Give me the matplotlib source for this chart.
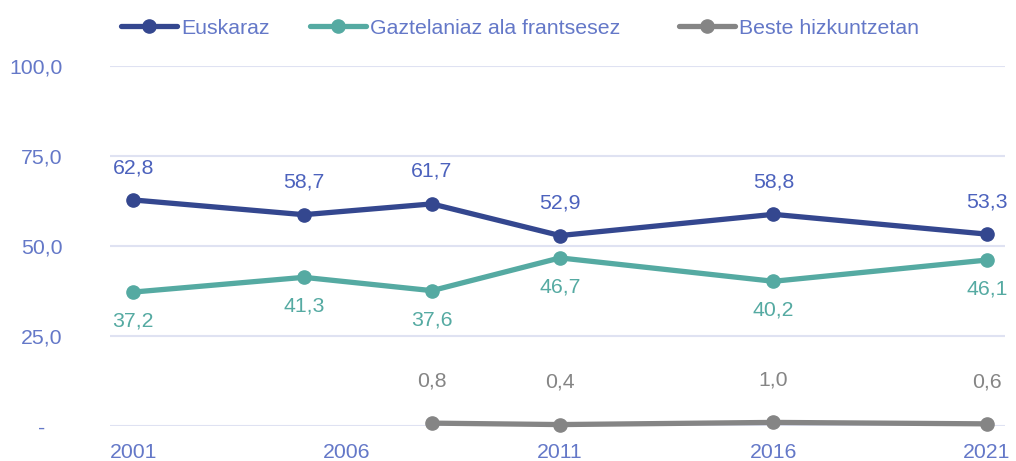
import matplotlib
matplotlib.use("Agg")
import matplotlib.pyplot as plt
from matplotlib.lines import Line2D

years = [2001, 2005, 2008, 2011, 2016, 2021]
euskaraz = [62.8, 58.7, 61.7, 52.9, 58.8, 53.3]
gaztelania = [37.2, 41.3, 37.6, 46.7, 40.2, 46.1]
beste_years = [2008, 2011, 2016, 2021]
beste = [0.8, 0.4, 1.0, 0.6]
series_names = ["Euskaraz", "Gaztelaniaz ala frantsesez", "Beste hizkuntzetan"]
xticks = [2001, 2006, 2011, 2016, 2021]
yticks = [0, 25, 50, 75, 100]
ytick_labels = ["-   ", "25,0", "50,0", "75,0", "100,0"]

c_blue = "#34478f"
c_teal = "#55aaa2"
c_grey = "#858585"
c_blue_lbl = "#4c62bd"
c_tick = "#6478c8"

plt.rcParams["font.family"] = ["Liberation Sans", "DejaVu Sans"]
fs = 15.3

fig = plt.figure(figsize=(10.16, 4.61), dpi=100)
ax = fig.add_axes([0.1083, 0.0759, 0.989 - 0.1083, 0.8568 - 0.0759])

kw = dict(lw=3.8, marker="o", markersize=9.5, clip_on=False, solid_capstyle="round", zorder=3)
ax.plot(years, euskaraz, color=c_blue, **kw)
ax.plot(years, gaztelania, color=c_teal, **kw)
ax.plot(beste_years, beste, color=c_grey, **kw)

def fmt(v):
    return f"{v:.1f}".replace(".", ",")

for x, v in zip(years, euskaraz):
    ax.annotate(fmt(v), (x, v), xytext=(0, 16.5), textcoords="offset points",
                ha="center", va="bottom", color=c_blue_lbl, fontsize=fs)
for x, v in zip(years, gaztelania):
    ax.annotate(fmt(v), (x, v), xytext=(0, -14), textcoords="offset points",
                ha="center", va="top", color=c_teal, fontsize=fs)
for x, v in zip(beste_years, beste):
    ax.annotate(fmt(v), (x, v), xytext=(0, 23.5), textcoords="offset points",
                ha="center", va="bottom", color=c_grey, fontsize=fs)

ax.set_xlim(2000.46, 2021.42)
ax.set_ylim(0, 100)
ax.set_xticks(xticks)
ax.set_xticklabels([str(x) for x in xticks])
ax.set_yticks(yticks)
ax.set_yticklabels(ytick_labels)
ax.tick_params(axis="both", length=0, labelsize=fs, labelcolor=c_tick)
ax.tick_params(axis="x", pad=12)
ax.tick_params(axis="y", pad=34)
for s in ax.spines.values():
    s.set_visible(False)
ax.grid(axis="y", color="#dfe2f2", lw=1.5)
ax.set_axisbelow(True)

handles = [Line2D([], [], color=c, lw=3.8, marker="o", markersize=9.5, solid_capstyle="round")
           for c in (c_blue, c_teal, c_grey)]
labels = [series_names[0], series_names[1] + "   ", series_names[2]]
leg = fig.legend(handles, labels, loc="center left", bbox_to_anchor=(112 / 1016, 1 - 28 / 461),
                 ncol=3, frameon=False, fontsize=fs, handlelength=2.65, handletextpad=0.2,
                 columnspacing=1.9, borderaxespad=0)
for t in leg.get_texts():
    t.set_color(c_tick)

fig.savefig("out.png", dpi=100)
